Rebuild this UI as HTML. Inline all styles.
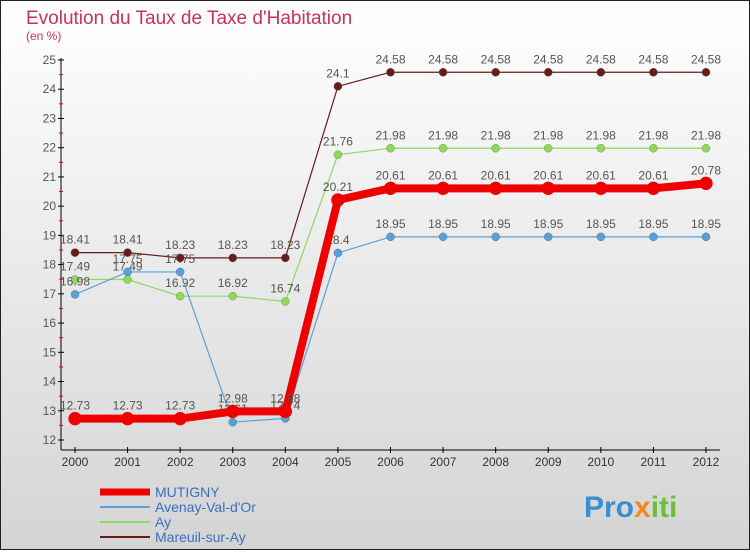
<!DOCTYPE html>
<html><head><meta charset="utf-8"><style>
body{margin:0}
svg text{font-family:"Liberation Sans",sans-serif}
</style></head><body>
<svg id="chart" width="750" height="550" xmlns="http://www.w3.org/2000/svg">
<defs><linearGradient id="bg" x1="0" y1="0" x2="0" y2="1"><stop offset="0" stop-color="#ffffff"/><stop offset="1" stop-color="#d4d4d4"/></linearGradient></defs>
<rect x="0.5" y="0.5" width="749" height="549" fill="url(#bg)" stroke="#222"/>
<text x="26" y="24" font-size="19" fill="#c8325a">Evolution du Taux de Taxe d'Habitation</text>
<text x="26" y="40" font-size="12" fill="#c8325a">(en %)</text>
<g id="axes"></g><g id="series"></g><g id="legend"></g>
<text x="584" y="517" font-size="30" font-weight="bold"><tspan fill="#3a8fd0">Pro</tspan><tspan fill="#f08a1a">x</tspan><tspan fill="#6cbf3a">iti</tspan></text>
</svg>
<script>
const years=[2000,2001,2002,2003,2004,2005,2006,2007,2008,2009,2010,2011,2012];
const yTicks=[12,13,14,15,16,17,18,19,20,21,22,23,24,25];
const mutigny=[12.73,12.73,12.73,12.98,12.98,20.21,20.61,20.61,20.61,20.61,20.61,20.61,20.78];
const avenay=[16.98,17.75,17.75,12.61,12.74,18.4,18.95,18.95,18.95,18.95,18.95,18.95,18.95];
const ay=[17.49,17.49,16.92,16.92,16.74,21.76,21.98,21.98,21.98,21.98,21.98,21.98,21.98];
const mareuil=[18.41,18.41,18.23,18.23,18.23,24.1,24.58,24.58,24.58,24.58,24.58,24.58,24.58];
const names=["MUTIGNY","Avenay-Val-d'Or","Ay","Mareuil-sur-Ay"];
const NS="http://www.w3.org/2000/svg";
const xS=i=>75+i*(706-75)/(years.length-1);
const yS=v=>440-(v-12)*(380/13);
function mk(t,a,p){const e=document.createElementNS(NS,t);for(const k in a)e.setAttribute(k,a[k]);p.appendChild(e);return e;}
const axes=document.getElementById('axes');
const ya=mk('line',{x1:61,y1:58,x2:61,y2:450,stroke:'#000'},axes);


const xa=mk('line',{x1:61,y1:450,x2:720,y2:450,stroke:'#000'},axes);


yTicks.forEach(v=>{
  mk('line',{x1:58,y1:yS(v),x2:64,y2:yS(v),stroke:'#000'},axes);
  if(v<25)mk('line',{x1:59,y1:yS(v+0.5),x2:63,y2:yS(v+0.5),stroke:'#e00'},axes);
  const t=mk('text',{x:56,y:yS(v)+4,'font-size':12,fill:'#555','text-anchor':'end'},axes);
  
  
  t.textContent=v;
});
years.forEach((y,i)=>{
  mk('line',{x1:xS(i),y1:447,x2:xS(i),y2:453,stroke:'#000'},axes);
  const t=mk('text',{x:xS(i),y:466,'font-size':12,fill:'#333','text-anchor':'middle'},axes);
  
  
  t.textContent=y;
});
const ser=document.getElementById('series');
function draw(vals,color,w,r,nm,stroke){
  const g=mk('g',{},ser);
  
  
  mk('polyline',{points:vals.map((v,i)=>xS(i)+','+yS(v)).join(' '),fill:'none',stroke:color,'stroke-width':w},g);
  vals.forEach((v,i)=>{
    const c=mk('circle',{cx:xS(i),cy:yS(v),r:r,fill:color,stroke:stroke,'stroke-width':0.5},g);
    
    
    const t=mk('text',{x:xS(i),y:yS(v)-9,'font-size':12,fill:'#555','text-anchor':'middle'},g);
    
    
    t.textContent=v;
  });
}
draw(mareuil,'#6b1a1a',1.2,4,'mareuil-series','#555');
draw(ay,'#8fd860',1.2,4,'ay-series','#6aa040');
draw(avenay,'#5aa0d8',1.2,4,'avenay-series','#3a7ab0');
draw(mutigny,'#ee0000',8,6.5,'mutigny-series','#ee0000');
const lg=document.getElementById('legend');
const cols=['#ee0000','#5aa0d8','#8fd860','#6b1a1a'],ws=[7,2,2,2];
names.forEach((n,i)=>{
  const y=492+i*15;
  const g=mk('g',{},lg);
  
  
  mk('line',{x1:100,y1:y,x2:150,y2:y,stroke:cols[i],'stroke-width':ws[i]},g);
  const t=mk('text',{x:155,y:y+5,'font-size':14,fill:'#3a6fc0'},g);
  t.textContent=n;
});
</script>
</body></html>
